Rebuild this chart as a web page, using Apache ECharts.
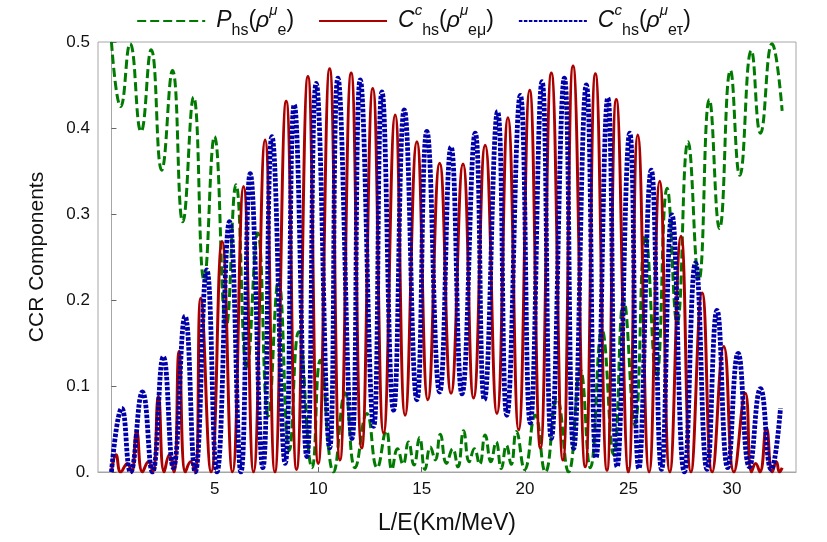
<!DOCTYPE html>
<html>
<head>
<meta charset="utf-8">
<script src="https://cdn.jsdelivr.net/npm/echarts@6/dist/echarts.min.js"></script>
<style>
html, body { margin: 0; padding: 0; background: #fff; }
#main { width: 827px; height: 542px; }
</style>
</head>
<body>
<div id="main"></div>
<script>
// values (peaks / troughs)
const greenX = [0, 0.45, 0.9, 1.43, 1.92, 2.43, 2.95, 3.45, 3.97, 4.48, 4.98, 5.55, 6.02, 6.55, 7.07, 7.58, 8.08, 8.6, 9.05, 9.7,
  10.1, 10.74, 11.3, 11.78, 12.35, 12.85, 13.29, 13.56, 13.83, 14.1, 14.36, 14.63, 14.9, 15.16, 15.42, 15.66, 15.9, 16.2, 16.5, 16.75,
  17.03, 17.3, 17.55, 17.8, 18.07, 18.35, 18.6, 18.85, 19.1, 19.33, 19.58, 19.98, 20.49, 20.98, 21.54, 22.1, 22.67, 23.15, 23.72, 24.28,
  24.77, 25.3, 25.82, 26.35, 26.87, 27.35, 27.88, 28.4, 28.91, 29.4, 29.93, 30.38, 30.94, 31.38, 31.94, 32.43];
const greenY = [0.5, 0.425, 0.498, 0.396, 0.491, 0.351, 0.467, 0.291, 0.436, 0.223, 0.39, 0.169, 0.334, 0.12, 0.278, 0.065, 0.223, 0.025, 0.163, 0.005,
  0.13, 0.0, 0.092, 0.005, 0.068, 0.005, 0.048, 0.003, 0.027, 0.009, 0.035, 0.008, 0.04, 0.003, 0.029, 0.014, 0.044, 0.01, 0.027, 0.006,
  0.048, 0.012, 0.027, 0.009, 0.043, 0.012, 0.035, 0.004, 0.031, 0.009, 0.047, 0.003, 0.066, 0.0, 0.086, 0.0, 0.119, 0.005, 0.165, 0.02,
  0.2, 0.055, 0.276, 0.11, 0.33, 0.173, 0.384, 0.223, 0.433, 0.283, 0.467, 0.345, 0.49, 0.394, 0.498, 0.42];

const redX = [0, 0.22, 0.45, 0.77, 0.97, 1.22, 1.5, 1.79, 2.0, 2.27, 2.55, 2.8, 3.02, 3.27, 3.58, 3.83, 4.05, 4.32, 4.82, 5.35,
  5.85, 6.39, 6.87, 7.43, 7.9, 8.45, 8.95, 9.5, 10.0, 10.55, 11.05, 11.59, 12.1, 12.64, 13.16, 13.72, 14.2, 14.77, 15.3, 15.87,
  16.42, 17.0, 17.51, 18.07, 18.64, 19.17, 19.69, 20.22, 20.74, 21.27, 21.83, 22.32, 22.91, 23.4, 23.96, 24.41, 25.0, 25.45, 26.0, 26.51,
  27.0, 27.54, 28.02, 28.56, 29.05, 29.61, 30.1, 30.65, 30.95, 31.15, 31.35, 31.67, 31.95, 32.15, 32.3, 32.43];
const redY = [0, 0.02, 0, 0.01, 0, 0.047, 0, 0.012, 0, 0.088, 0, 0.02, 0, 0.14, 0, 0.012, 0, 0.202, 0, 0.268,
  0, 0.332, 0, 0.386, 0, 0.431, 0.003, 0.46, 0.01, 0.469, 0.014, 0.464, 0.028, 0.446, 0.045, 0.415, 0.066, 0.384, 0.084, 0.359,
  0.0915, 0.358, 0.086, 0.38, 0.068, 0.412, 0.049, 0.444, 0.028, 0.464, 0.014, 0.472, 0.006, 0.463, 0.002, 0.433, 0, 0.392, 0, 0.338,
  0, 0.274, 0, 0.208, 0, 0.146, 0, 0.0915, 0, 0.01, 0, 0.051, 0, 0.012, 0, 0.005];

const blueX = [0, 0.5, 0.92, 1.5, 1.98, 2.51, 2.99, 3.56, 4.05, 4.61, 5.1, 5.71, 6.26, 6.71, 7.32, 7.76, 8.4, 8.84, 9.45, 9.9,
  10.55, 10.95, 11.63, 12.03, 12.68, 13.08, 13.64, 14.16, 14.77, 15.25, 15.87, 16.42, 16.95, 17.59, 18.03, 18.67, 19.12, 19.77, 20.25, 20.82,
  21.27, 21.9, 22.35, 22.96, 23.43, 24.0, 24.45, 25.06, 25.5, 26.1, 26.6, 27.1, 27.7, 28.24, 28.8, 29.28, 29.8, 30.3, 30.85, 31.38,
  31.9, 32.35];
const blueY = [0, 0.074, 0, 0.093, 0, 0.134, 0.005, 0.181, 0, 0.235, 0, 0.291, 0, 0.347, 0.005, 0.39, 0.01, 0.427, 0.018, 0.452,
  0.028, 0.458, 0.039, 0.456, 0.053, 0.442, 0.072, 0.421, 0.084, 0.396, 0.093, 0.378, 0.091, 0.394, 0.084, 0.419, 0.066, 0.438, 0.057, 0.454,
  0.039, 0.458, 0.0275, 0.45, 0.0165, 0.435, 0.006, 0.394, 0.004, 0.351, 0.003, 0.299, 0, 0.243, 0.003, 0.188, 0.005, 0.138, 0.006, 0.097,
  0.003, 0.074];

const xTicks = [5, 10, 15, 20, 25, 30];
const names = ['P', 'Cmu', 'Ctau'];

const FONT = '"Liberation Sans", Arial, sans-serif';

function pairs(xs, ys) {
  return xs.map((x, i) => [x, ys[i]]);
}

var chart = echarts.init(document.getElementById('main'));
var option = {
  backgroundColor: '#fff',
  animation: false,
  textStyle: { fontFamily: FONT },
  legend: {
    top: -2,
    left: 'center',
    itemWidth: 68,
    itemHeight: 14,
    itemGap: 24,
    data: names,
    itemStyle: { opacity: 0 },
    formatter: function (name) {
      if (name === 'P') return '{i|P}{sub|hs}{n|(}{i|ρ}{sup|μ}{sub|e}{n|)}';
      if (name === 'Cmu') return '{i|C}{sup|c}{sub|hs}{n|(}{i|ρ}{sup|μ}{sub|eμ}{n|)}';
      return '{i|C}{sup|c}{sub|hs}{n|(}{i|ρ}{sup|μ}{sub|eτ}{n|)}';
    },
    textStyle: {
      padding: [0, 0, 0, 6],
      rich: {
        i: { fontSize: 23, fontStyle: 'italic', color: '#111', lineHeight: 36, fontFamily: FONT },
        n: { fontSize: 23, color: '#111', lineHeight: 36, fontFamily: FONT },
        sup: { fontSize: 15, color: '#111', lineHeight: 18, verticalAlign: 'top', fontStyle: 'italic', fontFamily: FONT },
        sub: { fontSize: 16, color: '#111', lineHeight: 16, verticalAlign: 'bottom', fontFamily: FONT }
      }
    }
  },
  grid: {
    left: 98, right: 31, top: 42, bottom: 70,
    show: true, borderColor: '#a6a6a6', borderWidth: 1
  },
  xAxis: {
    type: 'value',
    min: -0.65,
    max: 33.1,
    name: 'L/E(Km/MeV)',
    nameLocation: 'middle',
    nameGap: 40,
    nameTextStyle: { fontSize: 23, color: '#111', fontFamily: FONT },
    axisLine: { show: true, lineStyle: { color: '#a6a6a6' } },
    axisTick: { show: true, inside: true, length: 5, customValues: xTicks, lineStyle: { color: '#666' } },
    axisLabel: { customValues: xTicks, fontSize: 17, color: '#111', margin: 9, fontFamily: FONT },
    splitLine: { show: false }
  },
  yAxis: {
    type: 'value',
    min: 0,
    max: 0.5,
    interval: 0.1,
    name: 'CCR Components',
    nameLocation: 'middle',
    nameGap: 50,
    nameTextStyle: { fontSize: 21, color: '#111', fontFamily: FONT },
    axisLine: { show: true, lineStyle: { color: '#a6a6a6' } },
    axisTick: { show: true, inside: true, length: 5, lineStyle: { color: '#666' } },
    axisLabel: {
      fontSize: 17, color: '#111', margin: 8, fontFamily: FONT,
      formatter: function (v) { return v === 0 ? '0.' : v.toFixed(1); }
    },
    splitLine: { show: false }
  },
  series: [
    {
      name: 'P', type: 'line', data: pairs(greenX, greenY),
      smooth: 0.5, showSymbol: false, symbol: 'none',
      lineStyle: { color: '#007a00', width: 3, type: [9, 4] },
      itemStyle: { color: '#007a00' }, z: 2
    },
    {
      name: 'Cmu', type: 'line', data: pairs(redX, redY),
      smooth: 0.5, showSymbol: false, symbol: 'none',
      lineStyle: { color: '#aa0000', width: 3, type: 'solid' },
      itemStyle: { color: '#aa0000' }, z: 3
    },
    {
      name: 'Ctau', type: 'line', data: pairs(blueX, blueY),
      smooth: 0.5, showSymbol: false, symbol: 'none',
      lineStyle: { color: '#0000aa', width: 4.8, type: [3.5, 1.5] },
      itemStyle: { color: '#0000aa' }, z: 4
    }
  ]
};
chart.setOption(option);
</script>
</body>
</html>
